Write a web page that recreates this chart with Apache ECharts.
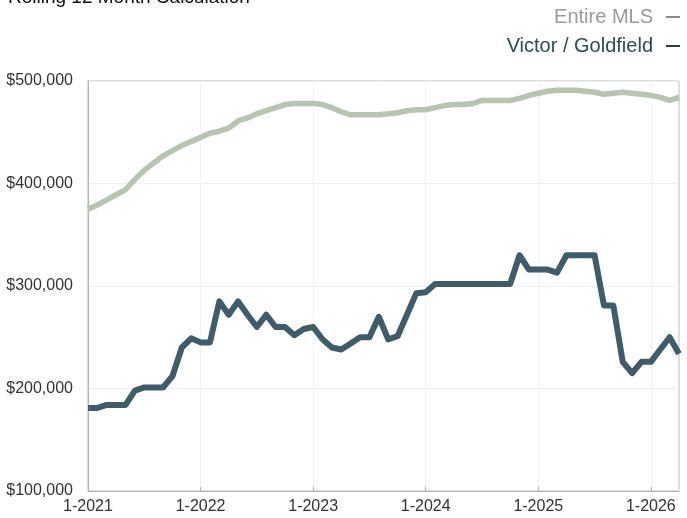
<!DOCTYPE html>
<html>
<head>
<meta charset="utf-8">
<script src="https://cdn.jsdelivr.net/npm/echarts@6/dist/echarts.min.js"></script>
<style>
html,body{margin:0;padding:0;background:#fff;}
#chart{width:687px;height:518px;}
</style>
</head>
<body>
<div id="chart"></div>
<script>
// Months 1-2021 .. 4-2026
const months = [];
for (let y = 2021; y <= 2026; y++) {
  for (let m = 1; m <= 12; m++) {
    if (y === 2026 && m > 4) break;
    months.push(m + '-' + y);
  }
}
const seriesNames = ['Entire MLS', 'Victor / Goldfield'];
const entireMLS = [
  375000, 379000, 384000, 389000, 394000, 404000, 413000, 420000, 427000, 432000, 437000, 441000,
  445000, 449000, 451000, 454000, 461000, 464000, 468000, 471000, 474000, 477000, 478000, 478000,
  478000, 477000, 474000, 470000, 467000, 467000, 467000, 467000, 468000, 469000, 471000, 472000,
  472000, 474000, 476000, 477000, 477000, 478000, 481000, 481000, 481000, 481000, 483000, 486000,
  488000, 490000, 491000, 491000, 491000, 490000, 489000, 487000, 488000, 489000, 488000, 487000,
  486000, 484000, 481000, 484000
];
const victorGoldfield = [
  181000, 181000, 184000, 184000, 184000, 198000, 201000, 201000, 201000, 212000, 240000, 249000,
  245000, 245000, 285000, 272000, 285000, 272000, 260000, 272000, 260000, 260000, 252000, 258000,
  260000, 248000, 240000, 238000, 244000, 250000, 250000, 270000, 248000, 251000, 272000, 293000,
  294000, 302000, 302000, 302000, 302000, 302000, 302000, 302000, 302000, 302000, 330000, 316000,
  316000, 316000, 313000, 330000, 330000, 330000, 330000, 281000, 281000, 226000, 215000, 226000,
  226000, 238000, 250000, 234000
];
const titleText = 'Rolling 12 Month Calculation';
const yMin = 100000, yMax = 500000, yStep = 100000;

const chart = echarts.init(document.getElementById('chart'));
const FONT = '"Liberation Sans", Arial, sans-serif';
chart.setOption({
  animation: false,
  backgroundColor: '#ffffff',
  graphic: [{
    type: 'text', left: 8, top: -12,
    style: { text: titleText, font: '19px ' + FONT, fill: '#111' }
  }],
  legend: {
    orient: 'vertical',
    right: 2,
    top: 2,
    align: 'right',
    itemGap: 9,
    itemWidth: 14,
    itemHeight: 2,
    icon: 'rect',
    textStyle: { fontFamily: FONT, fontSize: 20, padding: [0, 8, 0, 0] },
    data: [
      { name: seriesNames[0], textStyle: { color: '#9a9a9a' }, itemStyle: { color: '#8a8a8a' } },
      { name: seriesNames[1], textStyle: { color: '#2f4b4d' }, itemStyle: { color: '#2f3f45' } }
    ]
  },
  grid: { left: 88, right: 8, top: 81, bottom: 27, show: true, borderColor: '#bdbdbd', borderWidth: 1 },
  xAxis: {
    type: 'category',
    data: months,
    boundaryGap: false,
    axisLine: { show: true, lineStyle: { color: '#b5b5b5' } },
    axisTick: { show: true, inside: true, length: 4, lineStyle: { color: '#b5b5b5' }, interval: (i) => i % 12 === 0 },
    axisLabel: { interval: (i) => i % 12 === 0, color: '#333', fontFamily: FONT, fontSize: 16, margin: 8 },
    splitLine: { show: true, interval: (i) => i % 12 === 0, lineStyle: { color: '#f2f2f2' } }
  },
  yAxis: {
    type: 'value',
    min: yMin, max: yMax, interval: yStep,
    axisLine: { show: true, lineStyle: { color: '#b5b5b5' } },
    axisTick: { show: false },
    axisLabel: {
      color: '#333', fontFamily: FONT, fontSize: 16, margin: 15,
      formatter: (v) => '$' + v.toLocaleString('en-US')
    },
    splitLine: { show: true, lineStyle: { color: '#f0f0f0' } }
  },
  series: [
    {
      name: seriesNames[0], type: 'line', data: entireMLS, showSymbol: false,
      lineStyle: { width: 5.5, color: '#b9c3b3' }, itemStyle: { color: '#b9c3b3' }
    },
    {
      name: seriesNames[1], type: 'line', data: victorGoldfield, showSymbol: false,
      lineStyle: { width: 6, color: '#3f5c6b', join: 'round' }, itemStyle: { color: '#3f5c6b' }
    }
  ]
});
</script>
</body>
</html>
